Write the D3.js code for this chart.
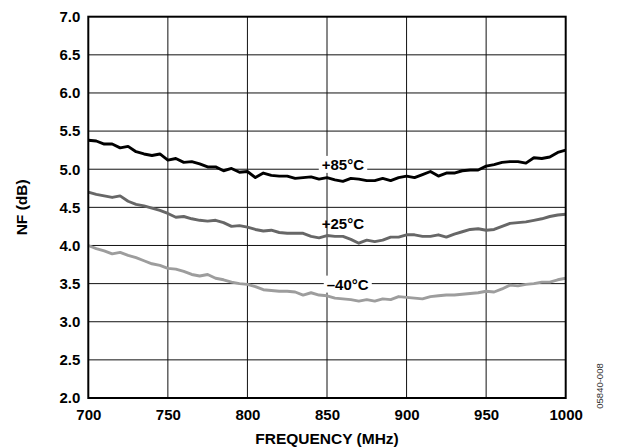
<!DOCTYPE html>
<html>
<head>
<meta charset="utf-8">
<script src="https://cdn.jsdelivr.net/npm/d3@7"></script>
<style>
  html, body { margin: 0; padding: 0; background: #fff; }
  svg { display: block; }
  text { font-family: "Liberation Sans", Arial, Helvetica, sans-serif; }
</style>
</head>
<body>
<svg id="chart" width="617" height="447"></svg>
<script>
// Noise figure vs. frequency at three temperatures, sampled every 5 MHz
const freqs = d3.range(700, 1001, 5);

const nf85 = [5.38, 5.37, 5.33, 5.33, 5.28, 5.30, 5.23, 5.20, 5.18, 5.20,
              5.12, 5.14, 5.09, 5.10, 5.07, 5.03, 5.03, 4.98, 5.01, 4.96,
              4.97, 4.89, 4.95, 4.92, 4.91, 4.91, 4.88, 4.89, 4.90, 4.87,
              4.89, 4.86, 4.84, 4.88, 4.87, 4.85, 4.85, 4.88, 4.85, 4.89,
              4.91, 4.89, 4.93, 4.97, 4.91, 4.95, 4.95, 4.98, 4.99, 4.99,
              5.04, 5.06, 5.09, 5.10, 5.10, 5.08, 5.15, 5.14, 5.16, 5.22,
              5.25];

const nf25 = [4.70, 4.67, 4.65, 4.63, 4.65, 4.58, 4.54, 4.52, 4.49, 4.46,
              4.42, 4.37, 4.38, 4.35, 4.33, 4.32, 4.33, 4.30, 4.25, 4.26,
              4.24, 4.21, 4.19, 4.20, 4.17, 4.16, 4.16, 4.16, 4.12, 4.10,
              4.13, 4.12, 4.12, 4.08, 4.03, 4.07, 4.05, 4.07, 4.11, 4.11,
              4.14, 4.14, 4.12, 4.12, 4.14, 4.11, 4.15, 4.18, 4.21, 4.22,
              4.20, 4.21, 4.25, 4.29, 4.30, 4.31, 4.33, 4.35, 4.38, 4.40,
              4.41];

const nfm40 = [4.00, 3.96, 3.93, 3.89, 3.91, 3.87, 3.84, 3.80, 3.76, 3.74,
               3.70, 3.69, 3.66, 3.62, 3.60, 3.62, 3.57, 3.55, 3.52, 3.50,
               3.49, 3.46, 3.42, 3.41, 3.40, 3.40, 3.39, 3.35, 3.38, 3.35,
               3.34, 3.31, 3.30, 3.29, 3.27, 3.29, 3.27, 3.30, 3.29, 3.33,
               3.32, 3.31, 3.30, 3.33, 3.34, 3.35, 3.35, 3.36, 3.37, 3.38,
               3.40, 3.39, 3.43, 3.48, 3.47, 3.49, 3.50, 3.52, 3.52, 3.55,
               3.57];

const xTicks = [700, 750, 800, 850, 900, 950, 1000];
const yTicks = [2.0, 2.5, 3.0, 3.5, 4.0, 4.5, 5.0, 5.5, 6.0, 6.5, 7.0];

const seriesNames = ["+85°C", "+25°C", "–40°C"];
const seriesColors = ["#000000", "#676767", "#9d9d9d"];
const seriesValues = [nf85, nf25, nfm40];
// label anchor (frequency, NF) and whether a white box hides the gridline behind it
const labelFreq = [860, 860, 863];
const labelNF = [5.06, 4.28, 3.49];
const labelKnockout = [true, false, true];

const svg = d3.select("#chart");
const margin = { left: 88.3, right: 617 - 565.7, top: 16.7, bottom: 447 - 398 };
const W = 617 - margin.left - margin.right;
const H = 447 - margin.top - margin.bottom;

const x = d3.scaleLinear().domain([700, 1000]).range([margin.left, margin.left + W]);
const y = d3.scaleLinear().domain([2, 7]).range([margin.top + H, margin.top]);

// gridlines
const grid = svg.append("g");
grid.selectAll("line.v").data(xTicks.slice(1, -1)).join("line")
  .attr("x1", d => x(d)).attr("x2", d => x(d))
  .attr("y1", y(2)).attr("y2", y(7))
  .attr("stroke", "#111").attr("stroke-width", 1);
grid.selectAll("line.h").data(yTicks.slice(1, -1)).join("line")
  .attr("x1", x(700)).attr("x2", x(1000))
  .attr("y1", d => y(d)).attr("y2", d => y(d))
  .attr("stroke", "#111").attr("stroke-width", 1);

// series lines
const line = d3.line().x((d, i) => x(freqs[i])).y(d => y(d));
seriesValues.forEach((vals, k) => {
  svg.append("path").datum(vals)
    .attr("d", line)
    .attr("fill", "none")
    .attr("stroke", seriesColors[k])
    .attr("stroke-width", 2.9)
    .attr("stroke-linejoin", "round");
});

// series labels
seriesNames.forEach((name, k) => {
  const g = svg.append("g");
  const t = g.append("text")
    .attr("x", x(labelFreq[k]))
    .attr("y", y(labelNF[k]))
    .attr("dy", "0.35em")
    .attr("text-anchor", "middle")
    .attr("font-size", 15)
    .attr("font-weight", "bold")
    .attr("fill", "#000")
    .text(name);
  if (labelKnockout[k]) {
    const bb = t.node().getBBox();
    g.insert("rect", "text")
      .attr("x", bb.x - 3).attr("y", bb.y)
      .attr("width", bb.width + 6).attr("height", bb.height)
      .attr("fill", "#fff");
  }
});

// frame
svg.append("rect")
  .attr("x", x(700)).attr("y", y(7))
  .attr("width", W).attr("height", H)
  .attr("fill", "none").attr("stroke", "#000").attr("stroke-width", 2);

// axes
const xAxis = svg.append("g")
  .attr("transform", `translate(0,${y(2)})`)
  .call(d3.axisBottom(x).tickValues(xTicks).tickSize(0).tickPadding(22).tickFormat(d3.format("d")));
const yAxis = svg.append("g")
  .attr("transform", `translate(${x(700)},0)`)
  .call(d3.axisLeft(y).tickValues(yTicks).tickSize(0).tickPadding(8).tickFormat(d3.format(".1f")));
[xAxis, yAxis].forEach(a => {
  a.select(".domain").remove();
  a.selectAll("text")
    .attr("font-family", "'Liberation Sans', Arial, sans-serif")
    .attr("font-size", 15).attr("font-weight", "bold").attr("fill", "#000");
});
xAxis.selectAll("text").attr("dy", "0");

// axis titles
svg.append("text")
  .attr("x", margin.left + W / 2).attr("y", 444)
  .attr("text-anchor", "middle")
  .attr("font-size", 15.5).attr("font-weight", "bold")
  .text("FREQUENCY (MHz)");
svg.append("text")
  .attr("transform", `translate(27,${margin.top + H / 2}) rotate(-90)`)
  .attr("text-anchor", "middle")
  .attr("font-size", 15.5).attr("font-weight", "bold")
  .text("NF (dB)");

// figure code
svg.append("text")
  .attr("transform", `translate(603,386) rotate(-90)`)
  .attr("text-anchor", "middle")
  .attr("font-size", 9.5).attr("fill", "#333")
  .text("05840-008");
</script>
</body>
</html>
